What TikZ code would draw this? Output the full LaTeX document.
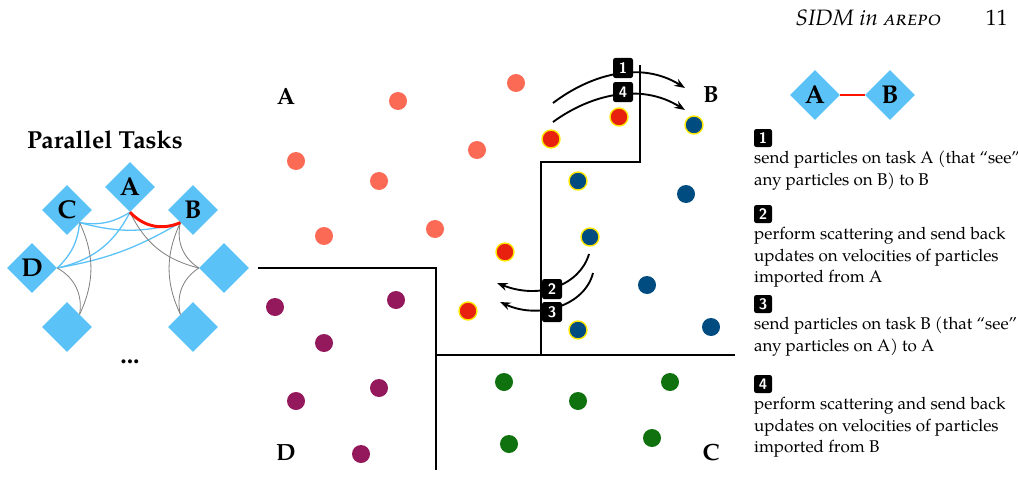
\documentclass[tikz,border=0pt]{standalone}
\usepackage{fontspec}
\setmainfont{TeX Gyre Pagella}
\usetikzlibrary{shapes.geometric,arrows.meta}
\definecolor{taskblue}{HTML}{5BC2F7}
\definecolor{lightred}{HTML}{FA6A55}
\definecolor{hotred}{HTML}{E8210F}
\definecolor{deepblue}{HTML}{004B7F}
\definecolor{plum}{HTML}{93195C}
\definecolor{leaf}{HTML}{0F720F}
\tikzset{
  task/.style={diamond,fill=taskblue,minimum size=50*0.03cm,inner sep=0pt,font=\bfseries\fontsize{22}{24}\selectfont},
  part/.style={circle,fill=#1,minimum size=18*0.03cm,inner sep=0pt},
  hpart/.style={part=#1,draw=yellow!90!orange,line width=1.2pt},
  stepbox/.style={fill=black,text=white,rounded corners=2pt,font=\sffamily\bfseries\fontsize{13}{13}\selectfont,inner sep=2pt,minimum width=20*0.03cm,minimum height=20*0.03cm},
  side/.style={font=\bfseries\fontsize{20}{22}\selectfont},
  flow/.style={-{Stealth[length=9pt]},line width=1.6pt},
  link/.style={taskblue,line width=1.1pt},
  slink/.style={gray,line width=.7pt}
}
\begin{document}
\begin{tikzpicture}[x=0.03cm,y=-0.03cm]
\useasboundingbox (0,0) rectangle (1018,478);
\node[anchor=east,font=\itshape\fontsize{19}{20}\selectfont] at (1012,18) {SIDM in \textsc{arepo}\qquad\upshape 11};

% tasks
\node[font=\bfseries\fontsize{21}{23}\selectfont] (title) at (105,140) {Parallel Tasks};
\node[task] (tA) at (130,187) {A};
\node[task] (tC) at (67,210) {C};
\node[task] (tB) at (193,210) {B};
\node[task] (tD) at (32,268) {D};
\node[task] (tE) at (224,268) {};
\node[task] (tF) at (67,327) {};
\node[task] (tG) at (193,327) {};
\node[font=\bfseries\fontsize{22}{24}\selectfont] (more) at (130,362) {...};
\draw[link] (tC.south east) to[bend right=20] (tA.south);
\draw[link] (tC.south east) to[bend right=15] (tB.south west);
\draw[link] (tD.east) to[bend right=25] (tA.south);
\draw[link] (tD.east) to[bend right=10] (tB.south west);
\draw[link] (tC.south east) to[bend left=20] (tD.east);
\draw[slink] (tA.south) to[bend right=25] (tE.west);
\draw[slink] (tC.south east) to[bend left=25] (tF.north east);
\draw[slink] (tD.east) to[bend left=35] (tF.north east);
\draw[slink] (tB.south west) to[bend right=25] (tG.north west);
\draw[slink] (tB.south west) to[bend right=35] (tE.west);
\draw[slink] (tE.west) to[bend right=35] (tG.north west);
\draw[red!85!orange,line width=2.5pt] (tA.south) to[bend right=35] (tB.south west);

% domains
\draw[line width=1.5pt] (258,268) -- (436,268) -- (436,470);
\draw[line width=1.5pt] (436,355) -- (735,355);
\draw[line width=1.5pt] (541,355) -- (541,162) -- (640,162) -- (640,65);
\node[side] (lA) at (286,96) {A};
\node[side] (lB) at (711,95) {B};
\node[side] (lD) at (286,453) {D};
\node[side] (lC) at (711,453) {C};

% particles
\foreach \x/\y in {398/101,516/83,296/161,379/181,477/150,324/236,435/229}
  \node[part=lightred] at (\x,\y) {};
\foreach \x/\y in {686/194,647/285,711/327}
  \node[part=deepblue] at (\x,\y) {};
\foreach \x/\y in {275/307,396/300,324/343,379/388,296/401,361/454}
  \node[part=plum] at (\x,\y) {};
\foreach \x/\y in {504/382,578/401,670/382,509/444,652/438}
  \node[part=leaf] at (\x,\y) {};
\node[hpart=hotred] (r1) at (551,139) {};
\node[hpart=hotred] (r2) at (619,117) {};
\node[hpart=hotred] (r3) at (505,252) {};
\node[hpart=hotred] (r4) at (468,311) {};
\node[hpart=deepblue] (b1) at (694,125) {};
\node[hpart=deepblue] (b2) at (578,181) {};
\node[hpart=deepblue] (b3) at (590,237) {};
\node[hpart=deepblue] (b4) at (578,330) {};

% exchange arrows
\coordinate (s1) at (553,103); \coordinate (e1) at (685,88);
\coordinate (s4) at (553,122); \coordinate (e4) at (685,110);
\coordinate (s2) at (589,254); \coordinate (e2) at (497,283);
\coordinate (s3) at (593,273); \coordinate (e3) at (500,302);
\draw[flow] (s1) .. controls (590,75) and (640,60) .. (e1);
\draw[flow] (s4) .. controls (590,95) and (640,82) .. (e4);
\draw[flow] (s2) .. controls (580,285) and (540,300) .. (e2);
\draw[flow] (s3) .. controls (585,305) and (540,320) .. (e3);
\node[stepbox] (n1) at (623,68) {1};
\node[stepbox] (n4) at (623,92) {4};
\node[stepbox] (n2) at (552,289) {2};
\node[stepbox] (n3) at (552,312) {3};

% legend
\node[task] (kA) at (815,95) {A};
\node[task] (kB) at (890,95) {B};
\draw[red!85!orange,line width=2pt] (kA) -- (kB);
\foreach \n/\y/\t in {1/138/{send particles on task A (that ``see''\\any particles on B) to B},
  2/214/{perform scattering and send back\\updates on velocities of particles\\imported from A},
  3/304/{send particles on task B (that ``see''\\any particles on A) to A},
  4/384/{perform scattering and send back\\updates on velocities of particles\\imported from B}}{
  \node[stepbox,minimum width=18*0.03cm,minimum height=18*0.03cm,inner sep=1pt] (k\n) at (763,\y) {\n};
  \node[anchor=north west,align=left,font=\fontsize{14.5}{18.5}\selectfont,inner sep=0pt] (d\n) at (754,\y+13) {\t};
}
\end{tikzpicture}
\end{document}
